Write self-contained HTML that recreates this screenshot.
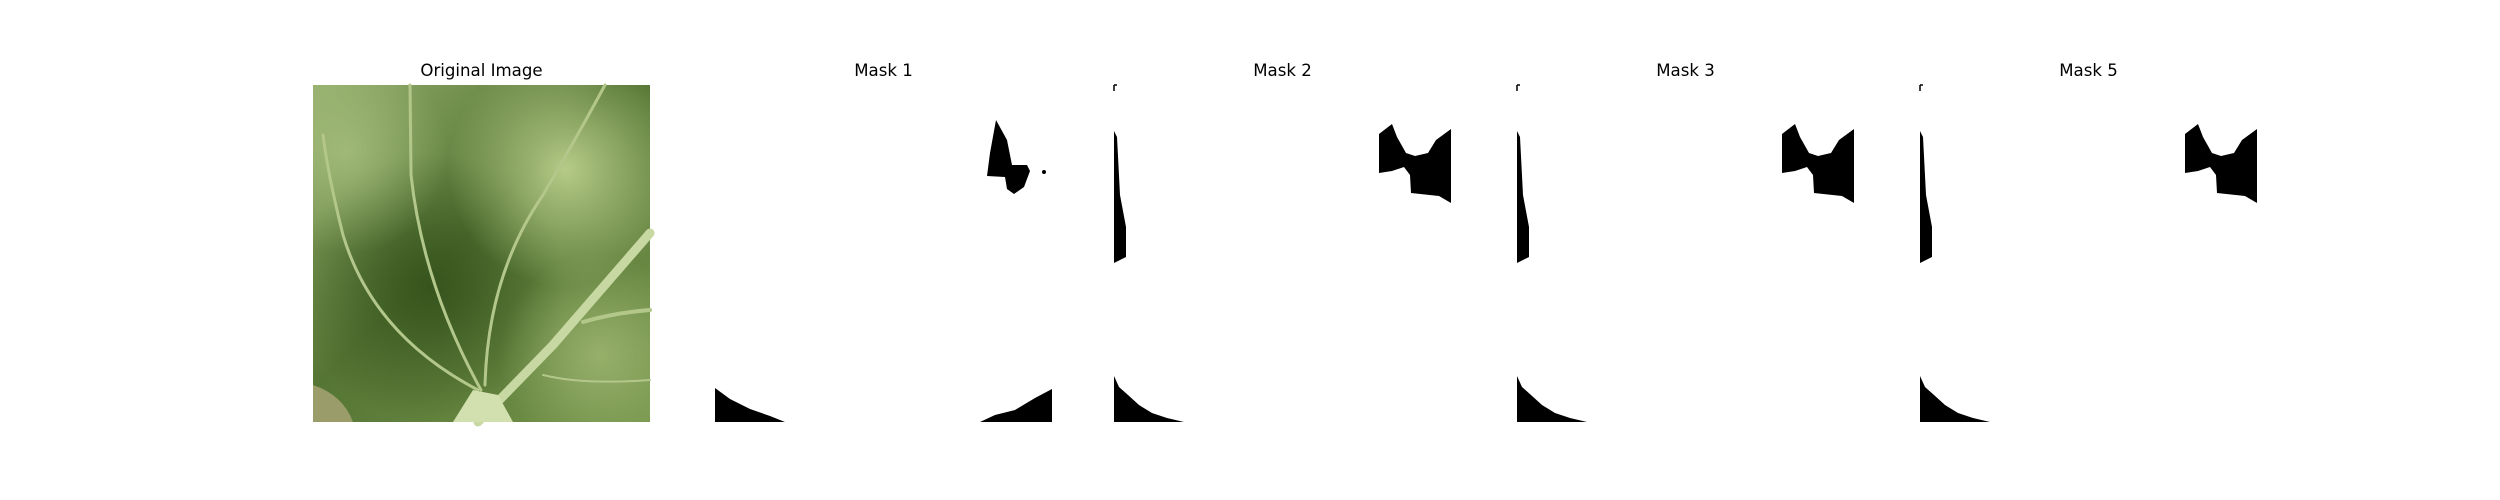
<!DOCTYPE html>
<html><head><meta charset="utf-8"><style>
html,body{margin:0;padding:0;background:#fff;}
body{width:2500px;height:500px;position:relative;overflow:hidden;font-family:"DejaVu Sans","Liberation Sans",sans-serif;}
.t{position:absolute;top:61px;width:337px;text-align:center;font-size:16.6px;color:#000;}
</style></head><body>
<svg width="2500" height="500" style="position:absolute;left:0;top:0">
<defs>
<linearGradient id="lg1" x1="0" y1="0" x2="1" y2="1">
<stop offset="0" stop-color="#94ae6c"/><stop offset="0.45" stop-color="#557534"/><stop offset="1" stop-color="#76954c"/>
</linearGradient>
<radialGradient id="rg1" cx="0.35" cy="0.6" r="0.4"><stop offset="0" stop-color="#34521b" stop-opacity="0.95"/><stop offset="1" stop-color="#34521b" stop-opacity="0"/></radialGradient>
<radialGradient id="rg2" cx="0.75" cy="0.25" r="0.35"><stop offset="0" stop-color="#c6d996" stop-opacity="0.85"/><stop offset="1" stop-color="#c6d996" stop-opacity="0"/></radialGradient>
<radialGradient id="rg3" cx="0.85" cy="0.8" r="0.3"><stop offset="0" stop-color="#a9c07c" stop-opacity="0.7"/><stop offset="1" stop-color="#a9c07c" stop-opacity="0"/></radialGradient>
<radialGradient id="rg4" cx="0.1" cy="0.2" r="0.3"><stop offset="0" stop-color="#b5cc8c" stop-opacity="0.6"/><stop offset="1" stop-color="#b5cc8c" stop-opacity="0"/></radialGradient>
</defs>
<g transform="translate(313,85)">
<rect width="337" height="337" fill="url(#lg1)"/>
<rect width="337" height="337" fill="url(#rg1)"/>
<rect width="337" height="337" fill="url(#rg2)"/>
<rect width="337" height="337" fill="url(#rg3)"/>
<rect width="337" height="337" fill="url(#rg4)"/>
<g fill="none" stroke="#b3c78b" stroke-linecap="round">
<path d="M168 305 Q110 200 98 90 L97 0" stroke-width="3"/>
<path d="M165 305 Q60 250 30 150 Q15 90 10 50" stroke-width="3"/>
<path d="M172 300 Q175 190 230 110 Q265 50 292 0" stroke-width="3"/>
<path d="M165 337 L240 260 L337 148" stroke="#c8d8a2" stroke-width="9"/>
<path d="M270 237 Q300 228 337 225" stroke-width="4"/>
<path d="M230 290 Q270 300 337 295" stroke-width="2"/>
</g>
<path d="M140 337 L160 305 L185 310 L200 337 Z" fill="#d2dfae"/>
<path d="M0 300 L0 337 L40 337 Q30 310 0 300Z" fill="#9a9c6a"/>
</g>
<g transform="translate(715,85)">
<path d="M281 35 L292 55 L297 80 L312 80 L315 86 L309 102 L299 109 L292 104 L290 92 L272 91 L275 68 Z"/>
<circle cx="329" cy="87" r="2"/>
<path d="M0 303 L15 314 L35 324 L55 331 L70 337 L0 337 Z"/>
<path d="M265 337 L280 330 L300 325 L320 313 L337 304 L337 337 Z"/>
</g>
<g transform="translate(1114,85)">
<path d="M0 0 L3 0 M0 0 L0 6" stroke="#000" stroke-width="1.5" fill="none"/>
<path d="M0 46 L3 52 L6 110 L12 142 L12 172 L6 175 L0 178 Z"/>
<path d="M265 84 L265 49 L278 39 L283 52 L292 68 L301 71 L314 68 L322 55 L337 44 L337 118 L325 111 L297 108 L296 90 L290 82 L278 86 L265 88 Z"/>
<path d="M0 291 L5 302 L14 310 L25 320 L38 328 L53 333 L70 337 L0 337 Z"/>
</g>
<g transform="translate(1517,85)">
<path d="M0 0 L3 0 M0 0 L0 6" stroke="#000" stroke-width="1.5" fill="none"/>
<path d="M0 46 L3 52 L6 110 L12 142 L12 172 L6 175 L0 178 Z"/>
<path d="M265 84 L265 49 L278 39 L283 52 L292 68 L301 71 L314 68 L322 55 L337 44 L337 118 L325 111 L297 108 L296 90 L290 82 L278 86 L265 88 Z"/>
<path d="M0 291 L5 302 L14 310 L25 320 L38 328 L53 333 L70 337 L0 337 Z"/>
</g>
<g transform="translate(1920,85)">
<path d="M0 0 L3 0 M0 0 L0 6" stroke="#000" stroke-width="1.5" fill="none"/>
<path d="M0 46 L3 52 L6 110 L12 142 L12 172 L6 175 L0 178 Z"/>
<path d="M265 84 L265 49 L278 39 L283 52 L292 68 L301 71 L314 68 L322 55 L337 44 L337 118 L325 111 L297 108 L296 90 L290 82 L278 86 L265 88 Z"/>
<path d="M0 291 L5 302 L14 310 L25 320 L38 328 L53 333 L70 337 L0 337 Z"/>
</g>
</svg>
<div class="t" style="left:313px">Original Image</div>
<div class="t" style="left:715px">Mask 1</div>
<div class="t" style="left:1114px">Mask 2</div>
<div class="t" style="left:1517px">Mask 3</div>
<div class="t" style="left:1920px">Mask 5</div>
</body></html>
